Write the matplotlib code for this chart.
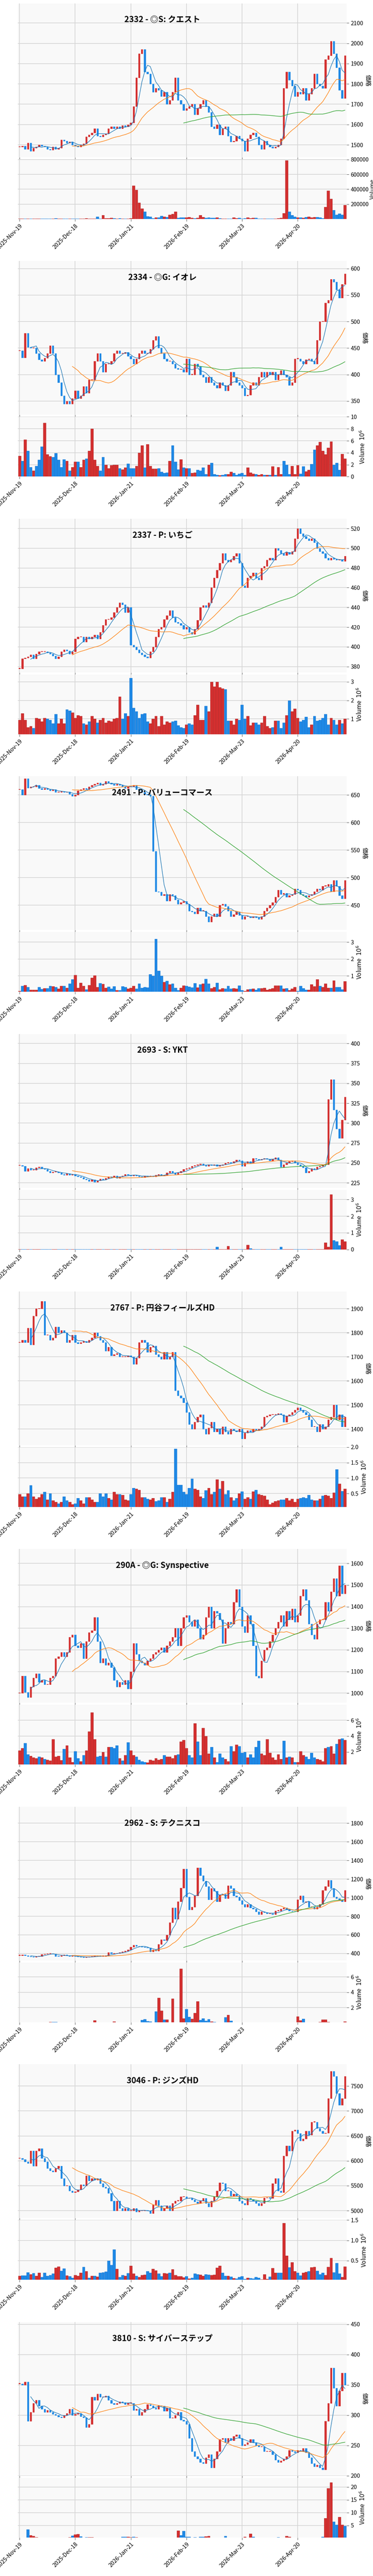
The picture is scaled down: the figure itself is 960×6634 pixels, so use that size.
import numpy as np
import pandas as pd
import matplotlib
matplotlib.use("Agg")
import matplotlib.pyplot as plt
from matplotlib.patches import Rectangle

plt.rcParams['font.family'] = ['Noto Sans CJK JP', 'DejaVu Sans']

titles = ["2332 - ◎S: クエスト", "2334 - ◎G: イオレ", "2337 - P: いちご", "2491 - P: バリューコマース",
          "2693 - S: YKT", "2767 - P: 円谷フィールズHD", "290A - ◎G: Synspective", "2962 - S: テクニスコ",
          "3046 - P: ジンズHD", "3810 - S: サイバーステップ"]
tick_pos = [0, 20, 40, 60, 80, 100]
tick_labels = ["2025-Nov-19", "2025-Dec-18", "2026-Jan-21", "2026-Feb-19", "2026-Mar-23", "2026-Apr-20"]

close_2332 = [1490,1495,1480,1510,1470,1485,1490,1500,1495,1490,
              1480,1475,1490,1480,1485,1525,1520,1510,1515,1500,
              1495,1490,1500,1505,1540,1550,1560,1580,1545,1540,
              1550,1555,1580,1590,1580,1590,1580,1595,1590,1600,
              1610,1690,1830,1950,1970,1860,1850,1800,1760,1780,
              1770,1740,1760,1700,1720,1760,1830,1720,1700,1670,
              1680,1690,1700,1650,1680,1700,1720,1690,1660,1590,
              1580,1600,1550,1580,1590,1545,1515,1520,1545,1530,
              1520,1470,1530,1550,1560,1540,1500,1480,1520,1500,
              1490,1485,1490,1500,1530,1780,1860,1820,1790,1740,
              1760,1750,1780,1720,1750,1780,1850,1800,1790,1780,
              1920,1940,2010,1950,1880,1770,1730,1940]
vol_2332 = [5,5,3,5,3,5,3,3,3,3, 3,3,5,8,5,3,3,3,3,3, 3,3,3,5,8,3,5,3,30,5,
            50,10,10,15,10,5,10,5,5,5, 10,450,390,220,140,100,35,30,10,20,
            20,40,30,25,60,70,100,15,20,20, 20,25,15,10,15,50,25,15,20,15,
            15,20,10,5,5,5,5,20,10,15, 5,10,20,10,15,15,5,5,5,5,
            5,5,5,10,15,80,790,100,50,30, 20,20,15,25,30,20,25,25,20,10,
            160,380,270,120,60,75,60,190]

close_2334 = [445,432,478,452,450,450,440,428,425,431, 440,455,440,400,385,360,345,350,345,355,
              370,355,360,378,365,390,390,425,440,425, 405,420,420,425,440,445,440,440,442,435,
              430,420,430,440,445,440,440,448,465,472, 450,440,430,425,425,420,412,410,410,405,
              430,400,400,420,415,400,395,385,395,385, 380,375,385,380,370,380,405,395,385,380,
              375,360,362,380,385,380,395,405,395,405, 400,405,390,400,408,400,395,380,385,430,
              430,425,420,428,430,425,420,465,500,500, 535,540,580,575,560,545,570,590]
vol_2334 = [3.5,2.6,6.2,4.3,1.6,1.0,1.8,2.8,5.0,9.0, 3.7,3.4,3.3,3.9,2.8,1.6,2.9,2.6,1.0,1.6,
            2.5,2.5,1.6,2.8,3.0,4.3,8.0,2.8,1.8,1.0, 3.3,2.0,1.4,1.9,2.0,2.0,1.4,1.2,1.5,2.2,
            1.4,1.4,1.8,4.0,5.2,1.5,5.4,1.8,1.3,1.3, 1.4,0.8,0.6,0.7,2.6,5.2,2.5,1.2,2.9,1.5,
            1.4,1.4,0.6,0.7,1.1,1.0,1.5,0.4,2.0,2.3, 0.4,0.3,0.2,0.3,0.4,0.4,0.8,0.6,0.3,0.5,
            0.6,0.3,1.5,0.7,0.5,0.4,0.3,0.4,0.3,0.3, 0.3,1.7,0.3,1.6,0.4,2.6,2.0,0.4,1.8,0.4,
            1.9,0.5,1.7,0.9,1.1,2.1,4.5,5.2,5.8,4.3, 3.7,4.8,5.9,2.0,2.3,1.1,3.8,3.0]

close_2337 = [378,388,389,390,392,388,393,395,395,395, 394,393,391,388,390,395,397,396,393,395,
              408,410,410,405,410,408,410,412,408,415, 422,428,428,430,435,440,445,443,435,440,
              402,400,397,394,392,390,389,395,400,410, 418,420,428,432,437,430,425,424,422,418,
              420,415,413,418,427,440,442,440,445,460, 470,478,485,495,488,486,488,492,495,485,
              462,460,470,472,475,470,468,480,482,488, 490,488,500,498,495,493,496,494,497,510,
              520,515,512,510,508,510,506,500,497,495, 490,488,490,489,488,488,487,492]
vol_2337 = [0.95,1.3,0.95,0.55,0.6,0.5,1.05,1.0,0.85,1.05, 1.0,0.95,0.75,1.25,0.75,1.0,0.75,1.5,1.45,1.35,
            1.05,1.2,1.15,0.75,0.7,0.85,1.15,1.0,0.8,0.95, 1.05,0.8,0.9,0.85,1.0,1.05,2.2,1.0,1.3,1.15,
            3.2,1.6,1.4,1.05,1.25,1.3,0.85,0.75,1.0,1.15, 0.6,1.15,0.7,0.85,0.8,0.85,0.9,0.65,0.55,0.5,
            0.7,0.75,0.7,1.2,1.75,0.95,0.95,1.7,1.4,3.0, 2.75,3.0,2.7,2.65,2.6,0.9,0.9,0.7,1.0,0.95,
            1.75,1.0,1.15,0.65,0.8,0.8,0.7,0.8,1.15,0.6, 0.5,0.55,0.9,0.9,0.5,0.8,1.2,2.0,1.4,1.55,
            1.05,0.85,0.95,1.1,0.55,0.7,1.15,0.9,0.95,1.05, 1.25,0.7,1.05,0.95,0.7,0.95,0.75,1.0]

close_2491 = [660,650,680,663,665,665,668,662,660,662, 660,658,660,655,655,657,655,656,652,648,
              650,658,660,662,660,665,668,670,672,668, 670,675,672,670,668,670,668,665,662,665,
              665,668,660,658,655,652,650,648,548,475, 474,468,470,458,470,468,460,452,455,457,
              452,440,438,435,445,440,440,430,420,430, 435,430,450,452,448,440,430,433,438,432,
              425,430,430,428,430,428,425,430,440,445, 450,455,465,478,470,472,465,468,470,480,
              478,470,468,465,468,470,475,480,478,485, 485,488,475,495,485,468,462,495]
vol_2491 = [0.1,0.4,0.45,0.35,0.18,0.17,0.18,0.33,0.22,0.27, 0.27,0.42,0.38,0.33,0.25,0.42,0.42,0.3,0.55,0.8,
            1.05,0.3,0.6,0.4,0.2,0.45,0.9,1.02,0.35,0.58, 0.52,0.3,0.37,0.25,0.38,0.15,0.16,0.38,0.33,0.25,
            0.3,0.4,0.25,0.55,0.3,0.35,0.32,1.1,1.0,3.2, 1.3,1.0,0.65,0.7,0.5,0.55,0.3,0.15,0.3,0.43,
            0.4,0.37,0.32,0.57,0.32,0.5,0.55,0.82,0.55,0.28, 0.35,0.6,0.2,0.27,0.24,0.4,0.25,0.27,0.25,0.43,
            0.15,0.1,0.2,0.22,0.25,0.17,0.28,0.27,0.3,0.17, 0.22,0.27,0.43,0.43,0.43,0.25,0.28,0.15,0.25,0.33,
            0.1,0.42,0.28,0.18,0.17,0.5,0.38,0.8,0.4,0.33, 0.55,0.3,0.3,0.73,0.35,0.33,0.2,0.68]

close_2693 = [247,246,240,243,241,241,244,245,243,242, 240,238,239,239,238,236,235,237,235,236,
              234,233,232,230,229,227,229,226,228,230, 229,231,233,232,234,231,233,234,236,235,
              234,235,234,233,232,234,233,234,233,235, 236,234,235,238,240,238,236,238,240,242,
              243,244,246,247,248,249,247,246,248,247, 248,246,247,248,250,251,250,252,254,253,
              246,250,252,250,256,255,254,255,256,255, 253,255,257,254,245,248,250,252,253,250,
              248,246,244,238,240,243,242,245,246,248, 248,330,355,317,293,281,304,333]
vol_2693 = [0.01]*70 + [0.01,0.15,0.01,0.01,0.01,0.2,0.01,0.01,0.01,0.01,
            0.01,0.01,0.27,0.05,0.01,0.01,0.01,0.01,0.01,0.01, 0.01,0.01,0.01,0.01,0.15,0.01,0.01,0.01,0.01,0.01,
            0.01,0.01,0.01,0.01,0.01,0.01,0.01,0.01,0.01,0.01, 0.4,0.15,3.3,0.55,0.48,0.25,0.6,0.47]

close_2767 = [1760,1770,1760,1820,1750,1870,1900,1900,1930,1790, 1790,1770,1780,1825,1800,1810,1800,1760,1770,1790,
              1760,1755,1760,1765,1760,1770,1780,1800,1785,1770, 1760,1725,1740,1705,1710,1715,1700,1700,1700,1705,
              1700,1670,1695,1760,1770,1760,1720,1740,1745,1710, 1700,1690,1720,1690,1700,1720,1560,1540,1530,1510,
              1470,1420,1400,1430,1450,1460,1400,1380,1405,1430, 1390,1400,1380,1410,1390,1380,1400,1395,1390,1400,
              1360,1385,1395,1390,1400,1395,1400,1410,1450,1455, 1460,1460,1460,1465,1460,1430,1455,1460,1470,1480,
              1490,1480,1470,1460,1440,1410,1410,1390,1420,1400, 1410,1440,1450,1500,1440,1460,1410,1450]
vol_2767 = [0.48,0.4,0.4,0.5,0.77,0.4,0.33,0.38,0.47,0.55, 0.3,0.5,0.27,0.23,0.17,0.23,0.4,0.28,0.22,0.15,
            0.17,0.35,0.28,0.17,0.37,0.38,0.3,0.23,0.23,0.5, 0.4,0.5,0.35,0.3,0.55,0.48,0.48,0.45,0.3,0.28,
            0.47,0.68,0.65,0.62,0.38,0.38,0.32,0.3,0.35,0.25, 0.27,0.38,0.38,0.22,0.33,0.55,1.95,0.78,0.78,0.55,
            0.48,0.68,0.98,0.65,0.62,0.4,0.35,0.6,0.68,0.48, 0.55,0.95,0.65,0.9,0.47,0.6,0.38,0.28,0.35,0.5,
            0.57,0.32,0.38,0.33,0.57,0.62,0.47,0.45,0.42,0.3, 0.15,0.2,0.25,0.27,0.3,0.3,0.35,0.27,0.32,0.22,
            0.33,0.35,0.38,0.35,0.45,0.3,0.28,0.28,0.32,0.42, 0.45,0.42,0.35,0.53,1.28,0.82,0.58,0.65]

close_290A = [1000,1080,1005,980,1030,1070,1090,1050,1060,1040, 1040,1070,1080,1160,1170,1190,1170,1190,1260,1270,
              1220,1210,1230,1160,1240,1280,1290,1350,1240,1140, 1160,1130,1140,1120,1060,1030,1050,1040,1060,1020,
              1100,1230,1180,1150,1140,1130,1150,1160,1180,1190, 1200,1210,1190,1220,1240,1260,1300,1220,1300,1350,
              1360,1330,1310,1340,1300,1250,1270,1350,1400,1300, 1380,1370,1340,1230,1300,1330,1320,1420,1480,1400,
              1310,1280,1360,1320,1220,1080,1070,1150,1200,1210, 1240,1270,1300,1330,1360,1310,1380,1340,1390,1330,
              1360,1450,1480,1430,1320,1270,1250,1320,1340,1340, 1420,1380,1470,1530,1450,1590,1460,1500]
vol_290A = [2.2,2.5,3.1,1.7,1.5,1.3,1.2,1.4,1.3,1.1, 1.0,0.9,3.6,1.4,1.5,0.95,2.4,2.8,1.3,0.7,
            2.1,1.2,0.8,1.6,2.2,4.6,7.0,3.6,1.4,1.5, 2.0,1.4,2.6,2.6,2.5,2.8,1.2,0.9,1.6,3.2,
            2.2,1.6,1.4,1.0,0.8,0.7,0.65,1.0,0.9,1.2, 1.0,1.1,1.6,1.4,1.4,1.2,1.6,1.7,3.3,3.5,
            2.5,1.6,1.3,5.6,3.3,1.6,5.0,4.0,1.8,2.6, 1.3,0.7,1.8,1.3,1.1,0.8,2.7,2.1,2.9,2.7,
            1.9,2.0,1.3,1.7,1.3,2.6,3.4,1.8,1.6,3.6, 1.9,1.3,1.0,1.7,1.1,3.4,1.3,1.4,1.3,0.7,
            0.7,2.1,1.6,1.4,1.1,1.9,1.3,1.1,1.0,0.8, 2.5,2.6,2.7,1.8,3.0,3.6,3.7,3.5]

close_2962 = [380,385,378,370,365,362,368,372,390,395, 398,400,395,370,368,380,385,378,370,372,
              368,365,360,358,362,365,368,370,375,372, 372,375,410,400,400,405,410,420,430,440,
              470,490,480,475,470,465,460,420,440,430, 500,550,540,600,735,890,770,960,1105,1310,
              1010,870,900,1020,1320,1240,1180,1120,980,1100, 1070,960,1030,1040,990,1130,1100,1020,1010,970,
              930,900,930,890,880,850,820,850,840,830, 830,820,860,860,880,890,870,860,855,850,
              980,1020,950,960,900,900,880,900,930,1080, 1120,1190,1100,1010,990,980,960,1080]
vol_2962 = [0.05,0.05,0.05,0.05,0.02,0.02,0.05,0.05,0.02,0.02, 0.03,0.15,0.15,0.15,0.1,0.02,0.02,0.02,0.02,0.02,
            0.02,0.05,0.02,0.02,0.02,0.02,0.02,0.35,0.1,0.05, 0.02,0.05,0.05,0.1,0.2,0.05,0.02,0.02,0.02,0.02,
            0.02,0.02,0.1,0.05,0.4,0.5,0.25,0.2,0.05,1.5, 3.3,1.6,0.45,0.45,0.02,3.2,0.02,0.02,7.1,0.6,
            1.8,0.8,0.55,1.3,2.8,0.4,0.6,0.3,0.5,0.2, 0.15,0.1,0.05,0.05,0.75,1.05,0.3,0.05,0.1,0.05,
            0.05,0.02,0.05,0.1,0.05,0.05,0.05,0.02,0.02,0.02, 0.05,0.05,0.02,0.02,0.05,0.05,0.02,0.05,0.02,0.05,
            0.85,0.35,0.55,0.1,0.02,0.02,0.02,0.02,0.15,0.45, 0.45,0.15,0.05,0.02,0.02,0.05,0.05,0.2]

close_3046 = [6050,6030,5980,5950,6200,5900,6200,6250,6050,5980, 5850,5800,5780,5850,5900,5650,5500,5500,5400,5370,
              5380,5420,5520,5500,5700,5600,5650,5620,5650,5550, 5480,5450,5350,5200,5000,5200,5050,5000,5050,5000,
              5000,5050,4980,5000,5000,5010,5000,4950,5120,5210, 5100,5000,5050,5100,5000,5150,5200,5200,5280,5280,
              5250,5250,5220,5180,5150,5200,5250,5150,5080,5200, 5280,5400,5560,5550,5400,5400,5300,5340,5300,5200,
              5150,5120,5250,5230,5200,5150,5100,5150,5260,5270, 5250,5550,5650,5400,5370,6100,6300,6200,6600,6620,
              6550,6400,6440,6600,6520,6780,6780,6650,6600,6550, 6560,7250,7800,7700,7350,7120,7250,7700]
vol_3046 = [0.13,0.14,0.14,0.21,0.17,0.19,0.13,0.2,0.1,0.2, 0.13,0.15,0.18,0.33,0.36,0.25,0.31,0.14,0.12,0.08,
            0.15,0.13,0.2,0.35,0.24,0.08,0.13,0.13,0.11,0.2, 0.21,0.23,0.5,0.39,0.78,0.3,0.1,0.15,0.13,0.19,
            0.38,0.18,0.13,0.1,0.15,0.16,0.24,0.2,0.3,0.26, 0.18,0.12,0.19,0.18,0.2,0.29,0.15,0.12,0.12,0.09,
            0.12,0.06,0.08,0.18,0.17,0.16,0.13,0.17,0.16,0.15, 0.16,0.33,0.38,0.2,0.13,0.13,0.11,0.07,0.06,0.1,
            0.12,0.05,0.08,0.07,0.06,0.1,0.08,0.04,0.17,0.05, 0.11,0.32,0.2,0.2,0.2,1.43,0.62,0.34,0.46,0.24,
            0.2,0.14,0.2,0.22,0.24,0.34,0.35,0.25,0.17,0.2, 0.15,0.35,0.57,0.21,0.44,0.18,0.1,0.36]

close_3810 = [352,350,355,290,305,320,325,315,310,305, 308,305,302,300,297,296,300,303,310,300,
              302,303,298,296,280,285,330,325,335,330, 330,332,325,320,318,320,322,321,318,320,
              320,308,310,300,305,310,318,316,312,310, 316,315,307,312,295,295,300,305,292,290,
              285,262,240,232,228,222,220,230,235,213, 228,240,260,262,255,262,258,265,268,262,
              250,252,255,260,255,250,248,248,240,240, 240,235,226,222,225,228,232,242,240,238,
              242,240,245,238,230,220,215,218,213,210, 290,320,378,345,315,340,370,350]
vol_3810 = [0.3,0.2,0.2,3.5,1.2,0.8,0.4,0.2,0.2,0.1, 0.1,0.1,0.2,0.1,0.2,0.3,0.2,0.3,0.4,1.0,
            1.5,1.6,0.7,0.3,0.4,0.4,0.4,0.2,0.2,0.2, 0.2,0.1,0.1,0.1,0.1,0.1,0.1,0.5,0.6,0.6,
            0.4,0.6,0.4,0.2,0.2,0.1,0.1,0.1,0.1,0.1, 0.1,0.1,0.2,0.1,0.1,0.1,0.3,3.0,1.2,2.8,
            0.5,0.5,0.3,0.4,0.3,0.5,0.5,0.7,0.8,0.2, 0.2,0.2,0.2,0.3,0.8,0.3,0.1,0.1,0.1,0.1,
            0.2,0.6,0.2,1.7,0.5,0.1,0.1,0.1,0.1,0.1, 0.1,0.1,0.1,0.4,0.2,0.1,0.8,0.6,0.1,0.2,
            0.2,0.1,0.2,0.1,0.1,0.1,0.1,0.1,0.3,0.5, 7.8,19.5,21.8,6.5,5.2,8.3,5.3,4.8]

closes = [close_2332, close_2334, close_2337, close_2491, close_2693, close_2767, close_290A, close_2962, close_3046, close_3810]
vols = [vol_2332, vol_2334, vol_2337, vol_2491, vol_2693, vol_2767, vol_290A, vol_2962, vol_3046, vol_3810]

# axis ranges (layout)
price_lims = [(1439, 2196), (324, 614), (374, 530), (405, 684), (219, 412), (1333, 1971), (955, 1666), (325, 1978), (4852, 7936), (200, 454)]
vol_lims = [(0, 805), (0, 10.0), (0.17, 3.4), (0.06, 3.6), (0.0, 3.6), (0.06, 2.0), (0.4, 7.94), (0.1, 7.9), (0.03, 1.5), (0.3, 23.7)]

UP = '#d32f2f'
DOWN = '#1e88e5'
W, H = 960, 6634
PH = H / 10.0
L, R = 46, 892

fig = plt.figure(figsize=(W / 100, H / 100), dpi=100)
fig.patch.set_facecolor('white')

def rect(x0, y0, x1, y1):
    return [x0 / W, 1 - y1 / H, (x1 - x0) / W, (y1 - y0) / H]

for i in range(10):
    T = i * PH
    c = np.array(closes[i], dtype=float)
    v = np.array(vols[i], dtype=float)
    n = len(c)
    o = np.concatenate([[c[0]], c[:-1]])
    x = np.arange(n)
    up = c >= o
    cols = np.where(up, UP, DOWN)

    axp = fig.add_axes(rect(L, T + 9, R, T + 405))
    axv = fig.add_axes(rect(L, T + 410, R, T + 564), sharex=axp)
    for ax in (axp, axv):
        ax.set_facecolor('#f9f9f9')
        ax.grid(True, color='#d6d6d6', linewidth=1.3)
        ax.set_axisbelow(True)
        for s in ax.spines.values():
            s.set_visible(False)
        ax.yaxis.tick_right()
        ax.yaxis.set_label_position('right')
        ax.tick_params(axis='y', labelsize=10.5, length=4, color='#555555')
        ax.tick_params(axis='x', length=4, color='#555555')

    rng = price_lims[i][1] - price_lims[i][0]
    for xi, oi, ci, col in zip(x, o, c, cols):
        lo, hi = min(oi, ci), max(oi, ci)
        h = max(hi - lo, rng * 0.003)
        axp.add_patch(Rectangle((xi - 0.3, lo), 0.6, h, facecolor=col, edgecolor=col, linewidth=0.5))
    s = pd.Series(c)
    axp.plot(x, s.rolling(5).mean(), color='#1f77b4', lw=1.0)
    axp.plot(x, s.rolling(20).mean(), color='#ff7f0e', lw=1.0)
    axp.plot(x, s.rolling(60).mean(), color='#2ca02c', lw=1.0)
    axp.set_ylim(*price_lims[i])
    axp.set_xlim(-0.6, n - 0.4)
    axp.set_ylabel('価格', rotation=270, labelpad=14, fontsize=11)
    axp.tick_params(axis='x', labelbottom=False)
    axp.text((418 - L) / (R - L), 1 - 42 / 396, titles[i], transform=axp.transAxes, ha='center', va='center',
             fontsize=15, fontweight='bold')

    axv.bar(x, v, width=0.95, color=cols, edgecolor=np.where(up, '#b02a2a', '#1976d2'), linewidth=0.5)
    axv.set_ylim(*vol_lims[i])
    axv.set_xticks(tick_pos)
    axv.set_xticklabels(tick_labels, rotation=45, ha='right', rotation_mode='anchor', fontsize=10.5)
    if i == 0:
        axv.set_yticks([200, 400, 600, 800])
        axv.set_yticklabels(['200000', '400000', '600000', '800000'], fontsize=10)
        axv.set_ylabel('Volume', fontsize=10.5, labelpad=2)
    else:
        axv.set_ylabel('Volume  $10^6$', fontsize=11)

fig.savefig('out.png', dpi=100, facecolor='white')
